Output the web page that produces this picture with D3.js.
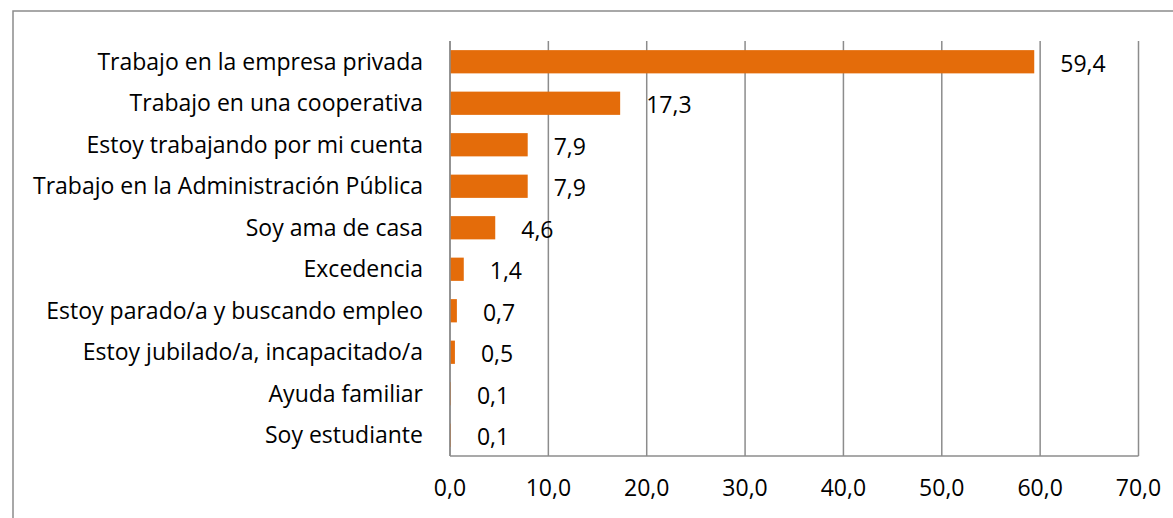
<!DOCTYPE html>
<html>
<head>
<meta charset="utf-8">
<script src="https://cdn.jsdelivr.net/npm/d3@7"></script>
<style>
  html, body { margin: 0; padding: 0; background: #fff; }
  svg { display: block; }
</style>
</head>
<body>
<svg width="1173" height="518"></svg>
<script>
const categories = [
  "Trabajo en la empresa privada",
  "Trabajo en una cooperativa",
  "Estoy trabajando por mi cuenta",
  "Trabajo en la Administración Pública",
  "Soy ama de casa",
  "Excedencia",
  "Estoy parado/a y buscando empleo",
  "Estoy jubilado/a, incapacitado/a",
  "Ayuda familiar",
  "Soy estudiante"
];
const values = [59.4, 17.3, 7.9, 7.9, 4.6, 1.4, 0.7, 0.5, 0.1, 0.1];
const xTicks = [0, 10, 20, 30, 40, 50, 60, 70];

const fmt = v => v.toFixed(1).replace(".", ",");

const svg = d3.select("svg");
const fontFamily = "'Open Sans', 'Noto Sans', sans-serif";
const fontSize = "23px";
const gridColor = "#8c8c8c";

// marco del gráfico (sale por la derecha y por abajo)
svg.append("rect")
  .attr("x", 13).attr("y", 11)
  .attr("width", 1200).attr("height", 560)
  .attr("fill", "none")
  .attr("stroke", "#8c8c8c")
  .attr("stroke-width", 1.5);

const plot = { left: 450, right: 1138.5, top: 41, bottom: 456 };

const x = d3.scaleLinear().domain([0, 70]).range([plot.left, plot.right]);
const y = d3.scaleBand().domain(categories).range([plot.top, plot.bottom]).paddingInner(0.44).paddingOuter(0.22);

// rejilla vertical
svg.append("g")
  .selectAll("line")
  .data(xTicks)
  .join("line")
  .attr("x1", d => x(d)).attr("x2", d => x(d))
  .attr("y1", plot.top).attr("y2", plot.bottom)
  .attr("stroke", gridColor)
  .attr("stroke-width", 1.5);

// línea base del eje
svg.append("line")
  .attr("x1", plot.left).attr("x2", plot.right)
  .attr("y1", plot.bottom).attr("y2", plot.bottom)
  .attr("stroke", gridColor)
  .attr("stroke-width", 1.5);

// etiquetas del eje X
svg.append("g")
  .selectAll("text")
  .data(xTicks)
  .join("text")
  .attr("x", d => x(d))
  .attr("y", 496)
  .attr("text-anchor", "middle")
  .attr("font-family", fontFamily)
  .attr("font-size", fontSize)
  .attr("fill", "#000")
  .text(fmt);

// barras
svg.append("g")
  .selectAll("rect")
  .data(values)
  .join("rect")
  .attr("x", x(0))
  .attr("y", (d, i) => y(categories[i]))
  .attr("width", d => x(d) - x(0))
  .attr("height", y.bandwidth())
  .attr("fill", "#e46c0a");

// eje Y (línea izquierda)
svg.append("line")
  .attr("x1", plot.left).attr("x2", plot.left)
  .attr("y1", plot.top).attr("y2", plot.bottom)
  .attr("stroke", gridColor)
  .attr("stroke-width", 1.5);

// etiquetas de categorías
svg.append("g")
  .selectAll("text")
  .data(categories)
  .join("text")
  .attr("x", 423)
  .attr("y", d => y(d) + y.bandwidth() / 2)
  .attr("dy", "0.35em")
  .attr("text-anchor", "end")
  .attr("font-family", fontFamily)
  .attr("font-size", fontSize)
  .attr("fill", "#000")
  .text(d => d);

// etiquetas de valores
svg.append("g")
  .selectAll("text")
  .data(values)
  .join("text")
  .attr("x", d => x(d) + 26)
  .attr("y", (d, i) => y(categories[i]) + y.bandwidth() / 2 + 2)
  .attr("dy", "0.35em")
  .attr("font-family", fontFamily)
  .attr("font-size", fontSize)
  .attr("fill", "#000")
  .text(fmt);
</script>
</body>
</html>
